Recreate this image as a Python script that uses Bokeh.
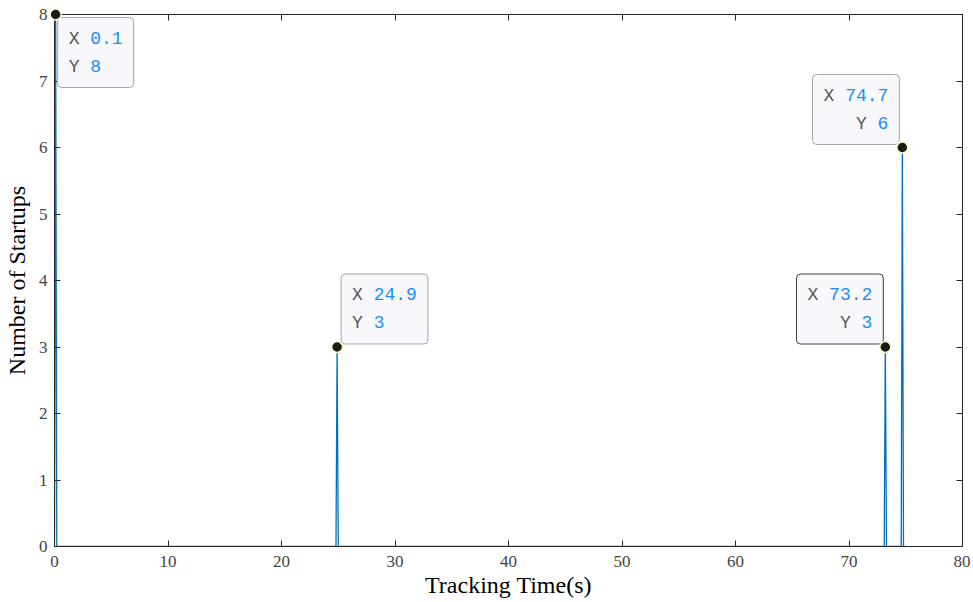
from bokeh.plotting import figure
from bokeh.models import Range1d, LinearAxis, Label, FixedTicker
from bokeh.embed import file_html
from bokeh.resources import INLINE

# Data: tracking time (s) and number of startups
time = [0.0, 0.1, 0.2, 24.8, 24.9, 25.0, 73.1, 73.2, 73.3, 74.6, 74.7, 74.8, 75.0]
startups = [0, 8, 0, 0, 3, 0, 0, 3, 0, 0, 6, 0, 0]

# Data tips
tip_x = [0.1, 24.9, 73.2, 74.7]
tip_y = [8, 3, 3, 6]
tip_xtxt = ["0.1", "24.9", "73.2", "74.7"]
tip_ytxt = ["8", "3", "3", "6"]

x_ticks = [0, 10, 20, 30, 40, 50, 60, 70, 80]
y_ticks = [0, 1, 2, 3, 4, 5, 6, 7, 8]

AX = "#262626"
TICK_TXT = "#444444"
SERIF = "Liberation Serif"
MONO = "Liberation Mono"
BOXBG = "#f8f8fc"

p = figure(width=970, height=600, output_backend="svg", toolbar_location=None,
           x_range=Range1d(0, 80), y_range=Range1d(0, 8),
           min_border_left=54, min_border_right=8, min_border_top=14, min_border_bottom=54,
           background_fill_color="white", border_fill_color="white")
p.grid.visible = False
p.outline_line_color = AX
p.outline_line_width = 1

def style_axis(ax, show_labels=True, standoff=5):
    ax.axis_line_color = AX
    ax.major_tick_line_color = AX
    ax.major_tick_in = 6
    ax.major_tick_out = 0
    ax.minor_tick_line_color = None
    ax.major_label_text_font = SERIF
    ax.major_label_text_color = TICK_TXT
    ax.major_label_text_font_size = "17px"
    ax.major_label_standoff = standoff

p.xaxis.ticker = FixedTicker(ticks=x_ticks)
p.yaxis.ticker = FixedTicker(ticks=y_ticks)
style_axis(p.xaxis[0], standoff=9)
style_axis(p.yaxis[0], standoff=7)
p.xaxis.axis_label = "Tracking Time(s)"
p.yaxis.axis_label = "Number of Startups"
for ax in (p.xaxis[0], p.yaxis[0]):
    ax.axis_label_text_font = SERIF
    ax.axis_label_text_font_size = "24px"
    ax.axis_label_text_font_style = "normal"
    ax.axis_label_text_color = "black"
p.xaxis[0].axis_label_standoff = 2
p.yaxis[0].axis_label_standoff = 6

top = LinearAxis(ticker=FixedTicker(ticks=x_ticks))
right = LinearAxis(ticker=FixedTicker(ticks=y_ticks))
style_axis(top, standoff=0)
style_axis(right, standoff=0)
top.major_label_overrides = {t: "" for t in x_ticks}
right.major_label_overrides = {t: "" for t in y_ticks}
p.add_layout(top, "above")
p.add_layout(right, "right")

p.line(time, startups, line_color="#0072BD", line_width=1.3)
pts = p.scatter(tip_x, tip_y, size=11, fill_color="#1a1a1a", line_color="#ffffcc", line_width=1.5)
pts.level = "overlay"

# data tip boxes
anchors = ["top_left", "bottom_left", "bottom_right", "bottom_right"]
xoffs = [2, 4, -2, -3]
yoffs = [-3, 3, 3, 3]
borders = ["#a6a6a6", "#a6a6a6", "#404040", "#a6a6a6"]
right_al = [False, False, True, True]
NB = "\u00a0"
for i in range(len(tip_x)):
    l1 = "X" + NB + tip_xtxt[i]
    l2 = "Y" + NB + tip_ytxt[i]
    n = max(len(l1), len(l2))
    if right_al[i]:
        l1, l2 = l1.rjust(n, NB), l2.rjust(n, NB)
    else:
        l1, l2 = l1.ljust(n, NB), l2.ljust(n, NB)
    gray = "".join(c if c in "XY" else NB for c in l1) + "\n" + "".join(c if c in "XY" else NB for c in l2)
    blue = "".join(NB if c in "XY" else c for c in l1) + "\n" + "".join(NB if c in "XY" else c for c in l2)
    common = dict(x=tip_x[i], y=tip_y[i], x_offset=xoffs[i], y_offset=yoffs[i],
                  anchor=anchors[i], text_font=MONO, text_font_size="18px",
                  text_line_height=1.4, padding=11, text_align="left")
    box = Label(text=l1 + "\n" + l2, text_color=BOXBG, background_fill_color=BOXBG,
                border_line_color=borders[i], border_line_width=1, border_radius=4, **common)
    g = Label(text=gray, text_color="#555555", **common)
    b = Label(text=blue, text_color="#1a8cff", **common)
    p.add_layout(box)
    p.add_layout(g)
    p.add_layout(b)

open("out.html", "w").write(file_html(p, INLINE))
